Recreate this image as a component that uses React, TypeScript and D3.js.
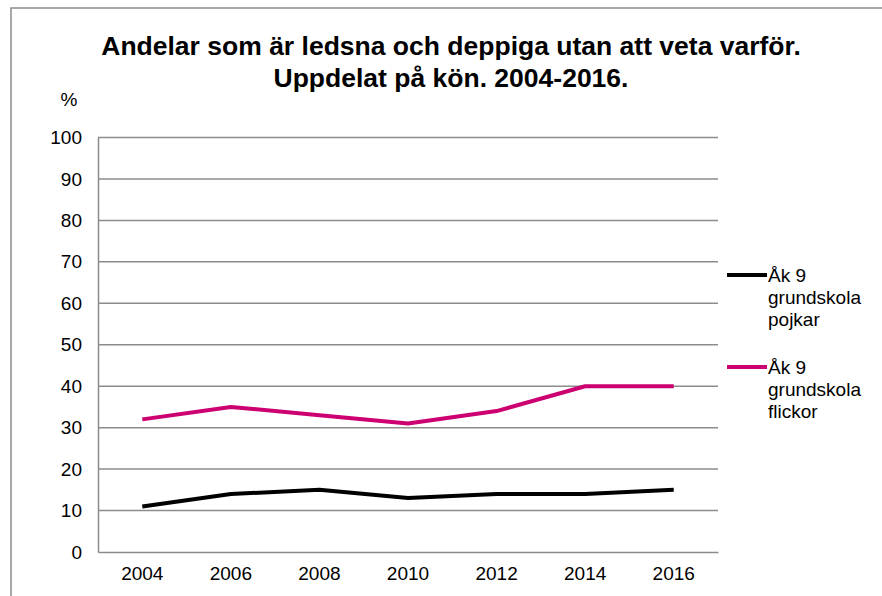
import React, { useEffect, useRef } from 'react'
import * as d3 from 'd3'

const years = ['2004', '2006', '2008', '2010', '2012', '2014', '2016']
const pojkar = [11, 14, 15, 13, 14, 14, 15]
const flickor = [32, 35, 33, 31, 34, 40, 40]
const yTicks = [0, 10, 20, 30, 40, 50, 60, 70, 80, 90, 100]
const seriesNames = [
  ['Åk 9', 'grundskola', 'pojkar'],
  ['Åk 9', 'grundskola', 'flickor'],
]
const seriesColors = ['#000000', '#CC0070']
const titleLines = ['Andelar som är ledsna och deppiga utan att veta varför.', 'Uppdelat på kön. 2004-2016.']

const App = () => {
  const svgRef = useRef<SVGSVGElement>(null)
  const width = 882
  const height = 596
  const margin = { top: 137.5, left: 98, right: 164, bottom: 44 }
  const font = '"Liberation Sans", Arial, sans-serif'

  useEffect(() => {
    const svg = d3.select(svgRef.current)
    svg.selectAll('*').remove()

    const x = d3
      .scaleBand()
      .domain(years)
      .range([margin.left, width - margin.right])
    const y = d3
      .scaleLinear()
      .domain([0, 100])
      .range([height - margin.bottom, margin.top])

    // outer frame
    svg
      .append('rect')
      .attr('x', 11)
      .attr('y', 8)
      .attr('width', width)
      .attr('height', height)
      .attr('fill', 'none')
      .attr('stroke', '#8c8c8c')
      .attr('stroke-width', 1.5)

    // title
    svg
      .append('g')
      .selectAll('text')
      .data(titleLines)
      .join('text')
      .attr('x', 451)
      .attr('y', (d, i) => 55 + i * 32)
      .attr('text-anchor', 'middle')
      .style('font-family', font)
      .style('font-weight', 'bold')
      .style('font-size', '26.5px')
      .text((d) => d)

    svg
      .append('text')
      .attr('x', 69)
      .attr('y', 106)
      .attr('text-anchor', 'middle')
      .style('font-family', font)
      .style('font-size', '19px')
      .text('%')

    // grid
    svg
      .append('g')
      .selectAll('line')
      .data(yTicks.slice(1))
      .join('line')
      .attr('x1', margin.left)
      .attr('x2', width - margin.right)
      .attr('y1', (d) => y(d))
      .attr('y2', (d) => y(d))
      .attr('stroke', '#8c8c8c')
      .attr('stroke-width', 1.5)

    // y axis
    const yAxis = svg
      .append('g')
      .attr('transform', `translate(${margin.left},0)`)
      .call(d3.axisLeft(y).tickValues(yTicks).tickSize(0).tickPadding(16))
    yAxis.select('.domain').attr('stroke', '#8c8c8c').attr('stroke-width', 1.5)
    yAxis.selectAll('.tick text').style('font-family', font).style('font-size', '19px').attr('fill', '#000')

    // x axis
    const xAxis = svg
      .append('g')
      .attr('transform', `translate(0,${y(0)})`)
      .call(d3.axisBottom(x).tickSize(0).tickSizeOuter(0).tickPadding(15))
    xAxis.select('.domain').attr('stroke', '#8c8c8c').attr('stroke-width', 1.5)
    xAxis.selectAll('.tick text').style('font-family', font).style('font-size', '19px').attr('fill', '#000')

    const line = d3
      .line<number>()
      .x((d, i) => (x(years[i]) as number) + x.bandwidth() / 2)
      .y((d) => y(d))

    ;[pojkar, flickor].forEach((s, i) => {
      svg
        .append('path')
        .datum(s)
        .attr('d', line)
        .attr('fill', 'none')
        .attr('stroke', seriesColors[i])
        .attr('stroke-width', 4)
        .attr('stroke-linejoin', 'round')
    })

    // legend
    const legend = svg
      .append('g')
      .selectAll('g')
      .data(seriesNames)
      .join('g')
      .attr('transform', (d, i) => `translate(727,${275 + i * 92})`)
    legend
      .append('line')
      .attr('x1', 0)
      .attr('x2', 40)
      .attr('stroke', (d, i) => seriesColors[i])
      .attr('stroke-width', 4)
    legend
      .selectAll('text')
      .data((d) => d)
      .join('text')
      .attr('x', 41)
      .attr('y', (d, i) => 7 + i * 22)
      .style('font-family', font)
      .style('font-size', '19px')
      .text((d) => d)
  }, [])

  return (
    <svg
      ref={svgRef}
      width={width}
      height={height}
      style={{ position: 'absolute', left: 0, top: 0, background: '#fff' }}
    ></svg>
  )
}

export default App
